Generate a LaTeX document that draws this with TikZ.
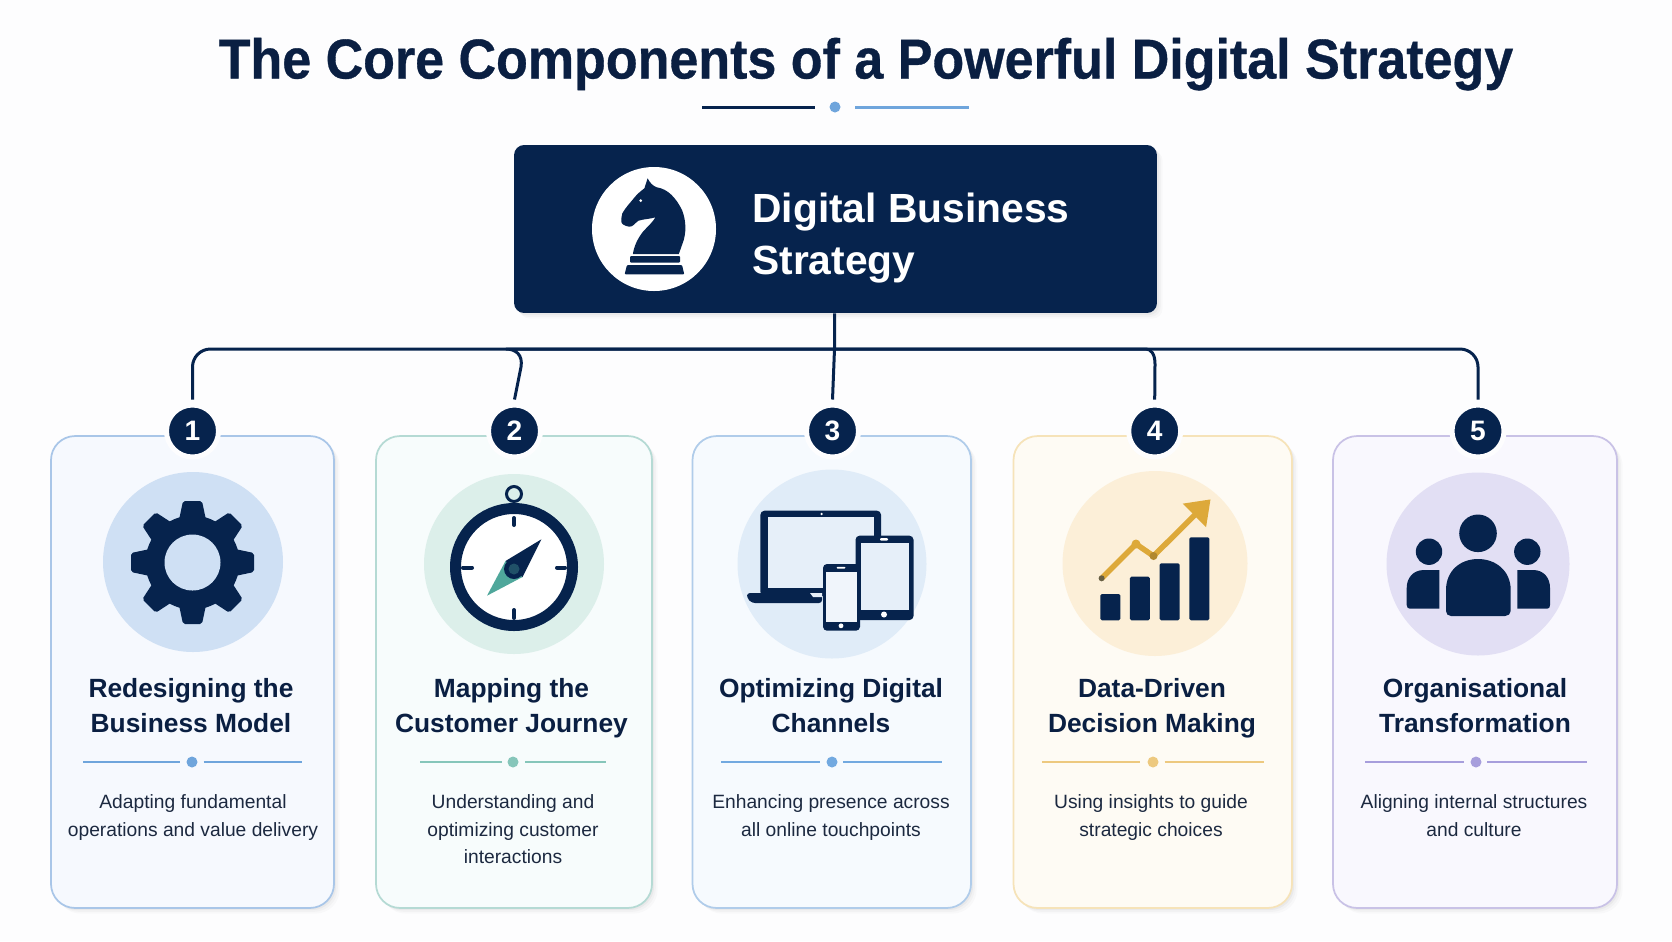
\documentclass[tikz,border=0pt]{standalone}
\usepackage{fontspec}
\setmainfont{Liberation Sans}
\newfontfamily\headingfont[BoldFeatures={FakeBold=0.6,FakeStretch=0.925}]{Liberation Sans}
\usetikzlibrary{
    arrows.meta,  % For the chart arrow tip
    shadows       % For the soft card shadows
}
\definecolor{pagebg}{HTML}{FDFDFE}
\definecolor{navy}{HTML}{06234D}
\definecolor{inktitle}{HTML}{0A1F42}
\definecolor{inktext}{HTML}{1C2940}
\definecolor{dotblue}{HTML}{6FA5DC}
\definecolor{chartgold}{HTML}{DDA93A}
\definecolor{needleteal}{HTML}{4FA79B}
\definecolor{screenblue}{HTML}{E6EFF9}
% --- card colours, one set per card ---
\definecolor{cardline1}{HTML}{A9C6E8}\definecolor{cardfill1}{HTML}{F6F9FE}\definecolor{disc1}{HTML}{CFE0F4}\definecolor{rule1}{HTML}{6FA5DC}
\definecolor{cardline2}{HTML}{B5DAD4}\definecolor{cardfill2}{HTML}{F7FCFC}\definecolor{disc2}{HTML}{DCEFEA}\definecolor{rule2}{HTML}{86C6BA}
\definecolor{cardline3}{HTML}{B0CCEA}\definecolor{cardfill3}{HTML}{F6FAFE}\definecolor{disc3}{HTML}{E0ECF8}\definecolor{rule3}{HTML}{72A9E0}
\definecolor{cardline4}{HTML}{F6E3B9}\definecolor{cardfill4}{HTML}{FEFBF4}\definecolor{disc4}{HTML}{FCEFD8}\definecolor{rule4}{HTML}{EDC97F}
\definecolor{cardline5}{HTML}{C9C2E6}\definecolor{cardfill5}{HTML}{F9F8FE}\definecolor{disc5}{HTML}{E2DFF4}\definecolor{rule5}{HTML}{A79EDC}
\begin{document}
\begin{tikzpicture}[
    x=0.02cm, y=-0.02cm,
    softshadow/.style={
        drop shadow={shadow xshift=1.2pt, shadow yshift=-1.2pt, fill=black, opacity=.035},
        drop shadow={shadow xshift=2.2pt, shadow yshift=-2.2pt, fill=black, opacity=.025},
        drop shadow={shadow xshift=3.2pt, shadow yshift=-3.2pt, fill=black, opacity=.02}
    },
    link/.style={draw=navy, line width=0.06cm},
    cardbox/.style={
        rounded corners=0.48cm, line width=0.035cm,
        inner sep=0pt, minimum height=9.44cm, softshadow
    },
    badge/.style={
        circle, fill=navy, draw=pagebg, line width=0.1cm, inner sep=0pt,
        minimum size=1.04cm, outer sep=0.11cm, text=white,
        font=\fontsize{16}{19}\selectfont\bfseries
    },
    cardtitle/.style={
        anchor=north, align=center, inner sep=0pt, text=inktitle,
        font=\fontsize{15}{19.9}\selectfont\bfseries,
        execute at begin node={\strut}
    },
    carddesc/.style={
        anchor=north, align=center, inner sep=0pt, text=inktext,
        font=\fontsize{10.95}{15.9}\selectfont,
        execute at begin node={\strut}
    }
]
    \fill[pagebg] (0,0) rectangle (1672,941);

    % --- Heading ---
    \node[anchor=base, inner sep=0pt, text=inktitle, font=\fontsize{32}{36}\headingfont\bfseries] (heading) at (866,78.5)
        {The Core Components of a Powerful Digital Strategy};
    \draw[navy, line width=0.06cm] (702,107) -- (815,107);
    \fill[dotblue] (835,107) circle (5.5);
    \draw[dotblue, line width=0.06cm] (855,107) -- (969,107);

    % --- Strategy box ---
    \node[fill=navy, rounded corners=0.2cm, minimum width=12.86cm, minimum height=3.36cm, inner sep=0pt, softshadow] (strategy) at (835.5,229) {};
    \fill[white] (654,229) circle (62);
    \node[anchor=north west, align=left, inner sep=0pt, text=white, font=\fontsize{23.2}{29.6}\selectfont\bfseries,
        execute at begin node={\strut}] (strategytext) at (752,193) {Digital Business\\Strategy};

    % knight
    \fill[navy] (647.6,178.3) .. controls (650,183) and (653,186) .. (656.8,187.3)
        .. controls (668,189) and (676,198) .. (682,210)
        .. controls (686,220) and (687,233) .. (682,245) -- (678.8,254) -- (632.9,254)
        .. controls (634,246) and (638,238) .. (643,231.7)
        .. controls (648,226) and (653,222) .. (655.4,217.3)
        .. controls (650,219) and (644,219) .. (638.4,220.7)
        .. controls (635,223) and (633,227) .. (629.2,226.7)
        .. controls (625,226) and (621,224) .. (621.4,221.7)
        .. controls (621,218) and (622,215) .. (622.3,213.3)
        .. controls (626,207) and (630,203) .. (633.8,198.3)
        .. controls (637,194) and (641,191) .. (644.4,188.3) -- cycle;
    \fill[white] (640.7,200.7) circle (1.5);
    \fill[navy, rounded corners=0.02cm] (630,256) rectangle (680,262.7);
    \fill[navy, rounded corners=0.02cm] (627,265) -- (682,265) -- (684.3,274.3) -- (624.6,274.3) -- cycle;

    % --- Cards ---
    \foreach \i/\xa/\xb/\cx/\cy/\rad/\tx/\dx/\la/\lb/\dc/\ra/\rb/\head/\body in {
        1/51/334/193/562/90/191/193/83/180/192/203.5/302/{Redesigning the\\Business Model}/{Adapting fundamental\\operations and value delivery},
        2/376/652/514/564/90/511.5/513/420/501.5/513/525/606/{Mapping the\\Customer Journey}/{Understanding and\\optimizing customer\\interactions},
        3/692.5/971/832/564/94.5/831/831/721/820/832/843/942/{Optimizing Digital\\Channels}/{Enhancing presence across\\all online touchpoints},
        4/1013.5/1292/1155/563.5/92.5/1152/1151/1042/1140/1153/1164.5/1264/{Data-Driven\\Decision Making}/{Using insights to guide\\strategic choices},
        5/1333/1617/1478/564/91.5/1475/1474/1365/1464/1476/1487/1587/{Organisational\\Transformation}/{Aligning internal structures\\and culture}%
    } {
        \node[cardbox, draw=cardline\i, fill=cardfill\i, minimum width={(\xb-\xa)*0.02cm}] (card\i) at ({(\xa+\xb)/2},672) {};
        \fill[disc\i] (\cx,\cy) circle (\rad);
        \node[cardtitle] (head\i) at (\tx,678) {\head};
        \draw[rule\i, line width=0.05cm] (\la,762) -- (\lb,762);
        \fill[rule\i] (\dc,762) circle (5.5);
        \draw[rule\i, line width=0.05cm] (\ra,762) -- (\rb,762);
        \node[carddesc] (desc\i) at (\dx,793.8) {\body};
    }

    % --- Numbered badges ---
    \node[badge] (badge1) at (192.5,431) {1};
    \node[badge] (badge2) at (514.5,431) {2};
    \node[badge] (badge3) at (832.5,431) {3};
    \node[badge] (badge4) at (1154.7,431) {4};
    \node[badge] (badge5) at (1478,431) {5};

    % --- Connectors ---
    \coordinate (bus) at (834.5,349);
    \draw[link] (bus |- strategy.south) -- (bus) -- (badge3.north);
    \draw[link, rounded corners=0.36cm] (bus) -| (badge1.north);
    \draw[link, rounded corners=0.36cm] (bus) -| (badge5.north);
    \draw[link] (bus) -- (506,349) .. controls (516,349) and (523,355) .. (521,367) -- (badge2.north);
    \draw[link] (bus) -- (1146,349) .. controls (1151,349) and (1155,354) .. (1155,364) -- (badge4.north);

    % --- Gear ---
    \foreach \a in {0,45,...,315} {
        \fill[navy, rounded corners=0.04cm, rotate around={\a:(192.5,562.5)}] (179,520) -- (183,501) -- (202,501) -- (206,520) -- cycle;
    }
    \fill[navy] (192.5,562.5) circle (47);
    \fill[disc1] (192.5,562.5) circle (28);

    % --- Compass ---
    \fill[white] (514,567) circle (60);
    \draw[navy, line width=0.22cm] (514,567) circle (58.5);
    \draw[navy, line width=0.06cm] (514,494) circle (7.5);
    \draw[navy, line width=0.08cm, line cap=round] (514,518) -- (514,525) (514,610) -- (514,618)
        (463,567.5) -- (472,567.5) (557,567.5) -- (565,567.5);
    \fill[needleteal] (487,595.7) -- (505.5,561) -- (522.5,577) -- cycle;
    \fill[navy] (541.4,539.3) -- (522.5,577) -- (505.5,561) -- cycle;
    \fill[navy] (514,569) circle (10);
    \fill[needleteal!35!navy] (514,569) circle (5.5);

    % --- Devices ---
    \fill[navy, rounded corners=0.08cm] (760.4,510.7) rectangle (881,596);
    \fill[screenblue] (767.7,516.7) rectangle (874,587.7);
    \fill[white] (821.6,514) circle (1.3);
    \fill[navy, rounded corners=0.06cm] (747,593) -- (822,593) -- (822,603) -- (752,603) -- (747,598) -- cycle;
    \fill[screenblue] (810,593) -- (822,593) -- (822,597) -- (813,597) -- cycle;
    \fill[navy, rounded corners=0.08cm] (855.5,535.7) rectangle (913.5,620);
    \fill[screenblue] (861,543) rectangle (908.6,610);
    \fill[white, rounded corners=0.02cm] (880,538) rectangle (888,540.5);
    \fill[white] (884,614.5) circle (3);
    \fill[navy, rounded corners=0.08cm] (823,564) rectangle (860,630.7);
    \fill[screenblue!60!white] (826,571.7) rectangle (857,621.7);
    \fill[white, rounded corners=0.02cm] (836.5,566.8) rectangle (845.5,568.6);
    \fill[white] (841,625.8) circle (2.4);

    % --- Chart ---
    \foreach \xa/\ya in {1100.4/594, 1129.8/576.7, 1159.6/563.3, 1189.4/537.3} {
        \fill[navy, rounded corners=0.03cm] (\xa,\ya) rectangle ({\xa+20},620.3);
    }
    \draw[chartgold, line width=0.11cm, line join=round, -{Triangle[length=13pt, width=18pt]}]
        (1101.6,578.3) -- (1136,544) -- (1153.5,556) -- (1210.6,499.3);
    \fill[chartgold] (1136,544) circle (4.5);
    \fill[chartgold!80!black] (1153.5,556) circle (4);
    \fill[chartgold!45!navy] (1101.6,578.3) circle (3);

    % --- People ---
    \fill[navy] (1478,533.3) circle (18.8);
    \fill[navy] (1429,551.7) circle (13.2);
    \fill[navy] (1527.3,551.7) circle (13.2);
    \fill[navy] (1446,590) .. controls (1446,571) and (1460,559) .. (1478,559)
        .. controls (1496,559) and (1510.7,571) .. (1510.7,590)
        -- (1510.7,611) .. controls (1510.7,614) and (1508,616) .. (1505,616)
        -- (1451,616) .. controls (1448,616) and (1446,614) .. (1446,611) -- cycle;
    \fill[navy] (1439.3,570) -- (1424,570) .. controls (1413,570) and (1406.7,578) .. (1406.7,588)
        -- (1406.7,605) .. controls (1406.7,607.5) and (1408,608.7) .. (1410,608.7) -- (1439.3,608.7) -- cycle;
    \fill[navy] (1517.3,570) -- (1533,570) .. controls (1544,570) and (1550,578) .. (1550,588)
        -- (1550,605) .. controls (1550,607.5) and (1549,608.7) .. (1547,608.7) -- (1517.3,608.7) -- cycle;

\end{tikzpicture}
\end{document}
